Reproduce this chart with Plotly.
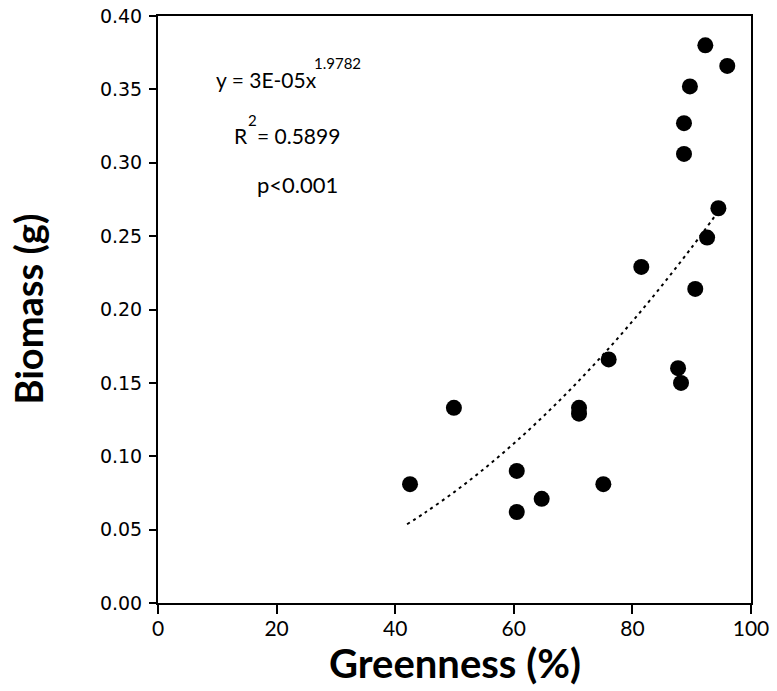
import plotly.graph_objects as go

# Data
greenness = [42.5, 49.9, 60.5, 60.5, 64.7, 71.0, 71.0, 75.1, 76.0, 81.5,
             87.7, 88.2, 88.7, 88.7, 89.7, 92.3, 96.0, 94.5, 92.6, 90.6]
biomass = [0.081, 0.133, 0.090, 0.062, 0.071, 0.133, 0.129, 0.081, 0.166, 0.229,
           0.160, 0.150, 0.306, 0.327, 0.352, 0.380, 0.366, 0.269, 0.249, 0.214]

# Power trend line y = a * x^b (as printed on the chart)
trend_a = 3.3e-5
trend_b = 1.9782
trend_x = [42.0, 45.0, 50.0, 55.0, 60.0, 65.0, 70.0, 75.0, 80.0, 85.0, 90.0, 94.5]
trend_y = [trend_a * v ** trend_b for v in trend_x]

x_ticks = [0, 20, 40, 60, 80, 100]
y_ticks = [0.0, 0.05, 0.10, 0.15, 0.20, 0.25, 0.30, 0.35, 0.40]

fig = go.Figure()
fig.add_trace(go.Scatter(x=trend_x, y=trend_y, mode="lines",
                         line=dict(color="black", width=2, dash="3px,4px", shape="spline"),
                         showlegend=False, hoverinfo="skip"))
fig.add_trace(go.Scatter(x=greenness, y=biomass, mode="markers",
                         marker=dict(color="black", size=16),
                         showlegend=False))

ann_font = dict(family="Lato", size=21, color="black")
sup_font = dict(family="Lato", size=15, color="black")
anns = [
    dict(x=9.5, y=0.357, text="y = 3E-05x", font=ann_font, xanchor="left"),
    dict(x=26.0, y=0.368, text="1.9782", font=sup_font, xanchor="left"),
    dict(x=12.5, y=0.3187, text="R", font=ann_font, xanchor="left"),
    dict(x=14.9, y=0.329, text="2", font=sup_font, xanchor="left"),
    dict(x=16.4, y=0.3187, text="= 0.5899", font=ann_font, xanchor="left"),
    dict(x=16.3, y=0.2850, text="p<0.001", font=dict(family="Lato", size=22, color="black"),
         xanchor="left"),
]
for a in anns:
    fig.add_annotation(xref="x", yref="y", showarrow=False, yanchor="middle", **a)

# Axis titles
fig.add_annotation(xref="paper", yref="paper", x=0.5, y=0, yanchor="middle",
                   xanchor="center", yshift=-60, showarrow=False,
                   text="<b>Greenness (%)</b>",
                   font=dict(family="Lato", size=40, color="black"))
fig.add_annotation(xref="paper", yref="paper", x=0, y=0.5, xanchor="center",
                   yanchor="middle", xshift=-131, textangle=-90, showarrow=False,
                   text="<b>Biomass (g)</b>",
                   font=dict(family="Lato", size=38, color="black"))

fig.update_layout(
    width=777, height=691,
    margin=dict(l=158, r=26, t=16, b=88),
    plot_bgcolor="white", paper_bgcolor="white",
    xaxis=dict(range=[0, 100], tickvals=x_ticks, ticktext=[str(v) for v in x_ticks],
               showgrid=False, zeroline=False, showline=True, linecolor="black",
               linewidth=2, mirror=True, ticks="outside", ticklen=9, tickwidth=2,
               tickcolor="black", automargin=False, ticklabeloverflow="allow",
               ticklabelstandoff=-3,
               tickfont=dict(family="Lato", size=21, color="black")),
    yaxis=dict(range=[0, 0.40], tickvals=y_ticks,
               ticktext=["%.2f" % v for v in y_ticks],
               showgrid=False, zeroline=False, showline=True, linecolor="black",
               linewidth=2, mirror=True, ticks="outside", ticklen=7, tickwidth=2,
               tickcolor="black", automargin=False, ticklabelstandoff=3,
               ticklabeloverflow="allow",
               tickfont=dict(family="DejaVu Sans", size=19, color="black")),
)

fig.write_html("out.html", config={"displayModeBar": False},
               post_script="document.body.style.margin='0px';")
